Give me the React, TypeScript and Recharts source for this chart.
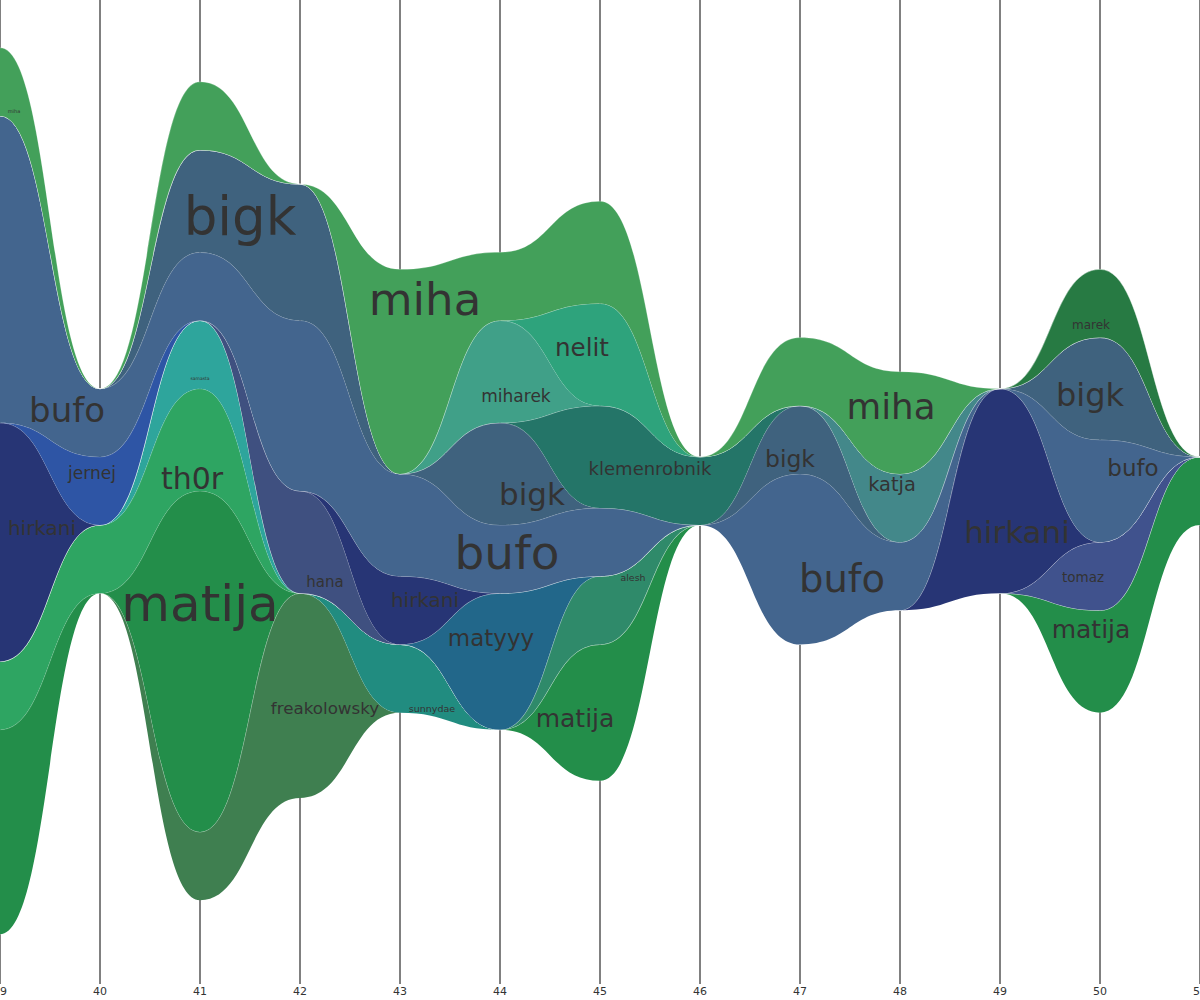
import React from 'react';
import { AreaChart, Area, XAxis, YAxis, CartesianGrid, ReferenceDot } from 'recharts';

// weeks on the x axis
const weeks = [39, 40, 41, 42, 43, 44, 45, 46, 47, 48, 49, 50, 51];

// activity per person per week (stack order: bottom -> top)
const freakolowsky = [0, 0, 1, 3, 0, 0, 0, 0, 0, 0, 0, 0, 0];
const sunnydae = [0, 0, 0, 0, 1, 0, 0, 0, 0, 0, 0, 0, 0];
const matija = [3, 0, 5, 0, 0, 0, 2, 0, 0, 0, 0, 1.5, 1];
const th0r = [1, 1, 1.5, 0, 0, 0, 0, 0, 0, 0, 0, 0, 0];
const samasta = [0, 0, 1, 0, 0, 0, 0, 0, 0, 0, 0, 0, 0];
const alesh = [0, 0, 0, 0, 0, 0, 1, 0, 0, 0, 0, 0, 0];
const tomaz = [0, 0, 0, 0, 0, 0, 0, 0, 0, 0, 0, 1, 0];
const matyyy = [0, 0, 0, 0, 0, 2, 0, 0, 0, 0, 0, 0, 0];
const hana = [0, 0, 0, 1.5, 0, 0, 0, 0, 0, 0, 0, 0, 0];
const hirkani = [3.5, 0, 0, 0, 1, 0, 0, 0, 0, 0, 3, 0, 0];
const jernej = [0, 1, 0, 0, 0, 0, 0, 0, 0, 0, 0, 0, 0];
const bufo = [4.5, 1, 1, 2.5, 1.5, 1, 1, 0, 2.5, 1, 0, 1.5, 0];
const bigk = [0, 0, 1.5, 2, 0, 1.5, 0, 0, 1, 0, 0, 1.5, 0];
const klemenrobnik = [0, 0, 0, 0, 0, 0, 1.5, 1, 0, 0, 0, 0, 0];
const katja = [0, 0, 0, 0, 0, 0, 0, 0, 0, 1, 0, 0, 0];
const miharek = [0, 0, 0, 0, 0, 1.5, 0, 0, 0, 0, 0, 0, 0];
const nelit = [0, 0, 0, 0, 0, 0, 1.5, 0, 0, 0, 0, 0, 0];
const marek = [0, 0, 0, 0, 0, 0, 0, 0, 0, 0, 0, 1, 0];
const miha = [1, 0, 1, 0, 3, 1, 1.5, 0, 1, 1.5, 0, 0, 0];

const series = [
  { key: 'freakolowsky', values: freakolowsky, color: '#3F7F50' },
  { key: 'sunnydae', values: sunnydae, color: '#218C80' },
  { key: 'matija', values: matija, color: '#238E4A' },
  { key: 'th0r', values: th0r, color: '#2EA562' },
  { key: 'samasta', values: samasta, color: '#2EA59C' },
  { key: 'alesh', values: alesh, color: '#2F8A6A' },
  { key: 'tomaz', values: tomaz, color: '#40528D' },
  { key: 'matyyy', values: matyyy, color: '#22678A' },
  { key: 'hana', values: hana, color: '#3F5080' },
  { key: 'hirkani', values: hirkani, color: '#273575' },
  { key: 'jernej', values: jernej, color: '#2E55A5' },
  { key: 'bufo', values: bufo, color: '#43658E' },
  { key: 'bigk', values: bigk, color: '#3F627E' },
  { key: 'klemenrobnik', values: klemenrobnik, color: '#247568' },
  { key: 'katja', values: katja, color: '#43888A' },
  { key: 'miharek', values: miharek, color: '#40A088' },
  { key: 'nelit', values: nelit, color: '#2EA37C' },
  { key: 'marek', values: marek, color: '#277A43' },
  { key: 'miha', values: miha, color: '#43A05A' },
];

// stream labels: layer, week where the text sits, font size, position inside the layer (0 bottom .. 1 top)
const labels = [
  { layer: 'miha', week: 39.14, size: 5, pos: 0.2 },
  { layer: 'bufo', week: 39.67, size: 34, pos: 0.35 },
  { layer: 'jernej', week: 39.92, size: 17, pos: 0.75 },
  { layer: 'hirkani', week: 39.42, size: 20, pos: 0.55 },
  { layer: 'th0r', week: 40.92, size: 30, pos: 0.13 },
  { layer: 'samasta', week: 41.0, size: 4.5, pos: 0.15 },
  { layer: 'matija', week: 41.0, size: 50, pos: 0.67 },
  { layer: 'bigk', week: 41.4, size: 53, pos: 0.5 },
  { layer: 'miha', week: 43.25, size: 45, pos: 0.83 },
  { layer: 'hana', week: 42.25, size: 15, pos: 0.18 },
  { layer: 'freakolowsky', week: 42.25, size: 16.7, pos: 0.44 },
  { layer: 'hirkani', week: 43.25, size: 20, pos: 0.64 },
  { layer: 'sunnydae', week: 43.32, size: 9.5, pos: 0.14 },
  { layer: 'matyyy', week: 43.91, size: 23, pos: 0.67 },
  { layer: 'bufo', week: 44.07, size: 47, pos: 0.59 },
  { layer: 'miharek', week: 44.16, size: 17, pos: 0.27 },
  { layer: 'nelit', week: 44.82, size: 24.6, pos: 0.56 },
  { layer: 'bigk', week: 44.32, size: 31, pos: 0.34 },
  { layer: 'klemenrobnik', week: 45.5, size: 18, pos: 0.56 },
  { layer: 'alesh', week: 45.33, size: 9.4, pos: 0.79 },
  { layer: 'matija', week: 44.75, size: 25, pos: 0.47 },
  { layer: 'bigk', week: 46.9, size: 23.5, pos: 0.24 },
  { layer: 'miha', week: 47.91, size: 35.6, pos: 0.65 },
  { layer: 'katja', week: 47.92, size: 19.4, pos: 0.84 },
  { layer: 'bufo', week: 47.42, size: 38.5, pos: 0.4 },
  { layer: 'hirkani', week: 49.17, size: 31, pos: 0.3 },
  { layer: 'marek', week: 49.91, size: 12, pos: 0.2 },
  { layer: 'bigk', week: 49.9, size: 32, pos: 0.44 },
  { layer: 'bufo', week: 50.33, size: 23, pos: 0.7 },
  { layer: 'tomaz', week: 49.83, size: 13.5, pos: 0.5 },
  { layer: 'matija', week: 49.91, size: 25, pos: 0.81 },
];

const data = weeks.map((week, i) => {
  const row: Record<string, number> = { week };
  series.forEach((s) => (row[s.key] = s.values[i]));
  return row;
});

// silhouette stack boundaries, same as the chart computes
const totals = weeks.map((_, j) => series.reduce((a, s) => a + s.values[j], 0));
const running = totals.map((t) => -t / 2);
const bounds: Record<string, { lo: number[]; hi: number[] }> = {};
series.forEach((s) => {
  const lo = running.slice();
  const hi = lo.map((v, j) => v + s.values[j]);
  bounds[s.key] = { lo, hi };
  hi.forEach((v, j) => (running[j] = v));
});

// value of a bumpX curve through ys at a fractional week
function bumpAt(ys: number[], x: number) {
  const i = Math.min(Math.max(Math.floor(x - weeks[0]), 0), weeks.length - 2);
  const u = x - weeks[i];
  let a = 0;
  let b = 1;
  for (let k = 0; k < 40; k++) {
    const t = (a + b) / 2;
    if (1.5 * (1 - t) * t + t * t * t < u) a = t;
    else b = t;
  }
  const t = (a + b) / 2;
  const s = 1 - t;
  return ys[i] + (ys[i + 1] - ys[i]) * (3 * s * t * t + t * t * t);
}

const App: React.FC = () => {
  return (
    <div style={{ position: 'absolute', left: 0, top: 0, width: 1200, height: 1000, background: '#fff' }}>
      <AreaChart
        width={1200}
        height={1000}
        data={data}
        stackOffset="silhouette"
        margin={{ top: 0, right: 0, bottom: 0, left: 0 }}
      >
        <CartesianGrid horizontal={false} stroke="#808080" strokeWidth={2} />
        <XAxis
          type="number"
          dataKey="week"
          domain={[39, 51]}
          ticks={weeks}
          interval={0}
          height={18}
          axisLine={false}
          tickLine={{ stroke: '#808080', strokeWidth: 2 }}
          tickSize={2}
          tickMargin={3}
          tick={{ fontSize: 11, fill: '#333', fontFamily: 'DejaVu Sans' }}
        />
        <YAxis hide type="number" domain={[-7.2, 7.2]} allowDataOverflow />
        {series.map((s) => (
          <Area
            key={s.key}
            type="bumpX"
            dataKey={s.key}
            stackId="stream"
            fill={s.color}
            fillOpacity={1}
            stroke="#ffffff"
            strokeOpacity={0.3}
            strokeWidth={0.8}
            dot={false}
            activeDot={false}
            isAnimationActive={false}
          />
        ))}
        {labels.map((l, i) => {
          const b = bounds[l.layer];
          const lo = bumpAt(b.lo, l.week);
          const hi = bumpAt(b.hi, l.week);
          return (
            <ReferenceDot
              key={i}
              x={l.week}
              y={lo + l.pos * (hi - lo)}
              r={0}
              shape={(p: any) => (
                <text
                  x={p.cx}
                  y={p.cy}
                  textAnchor="middle"
                  dominantBaseline="central"
                  fontSize={l.size}
                  fontFamily="DejaVu Sans"
                  fill="#333"
                >
                  {l.layer}
                </text>
              )}
            />
          );
        })}
      </AreaChart>
    </div>
  );
};

export default App;
